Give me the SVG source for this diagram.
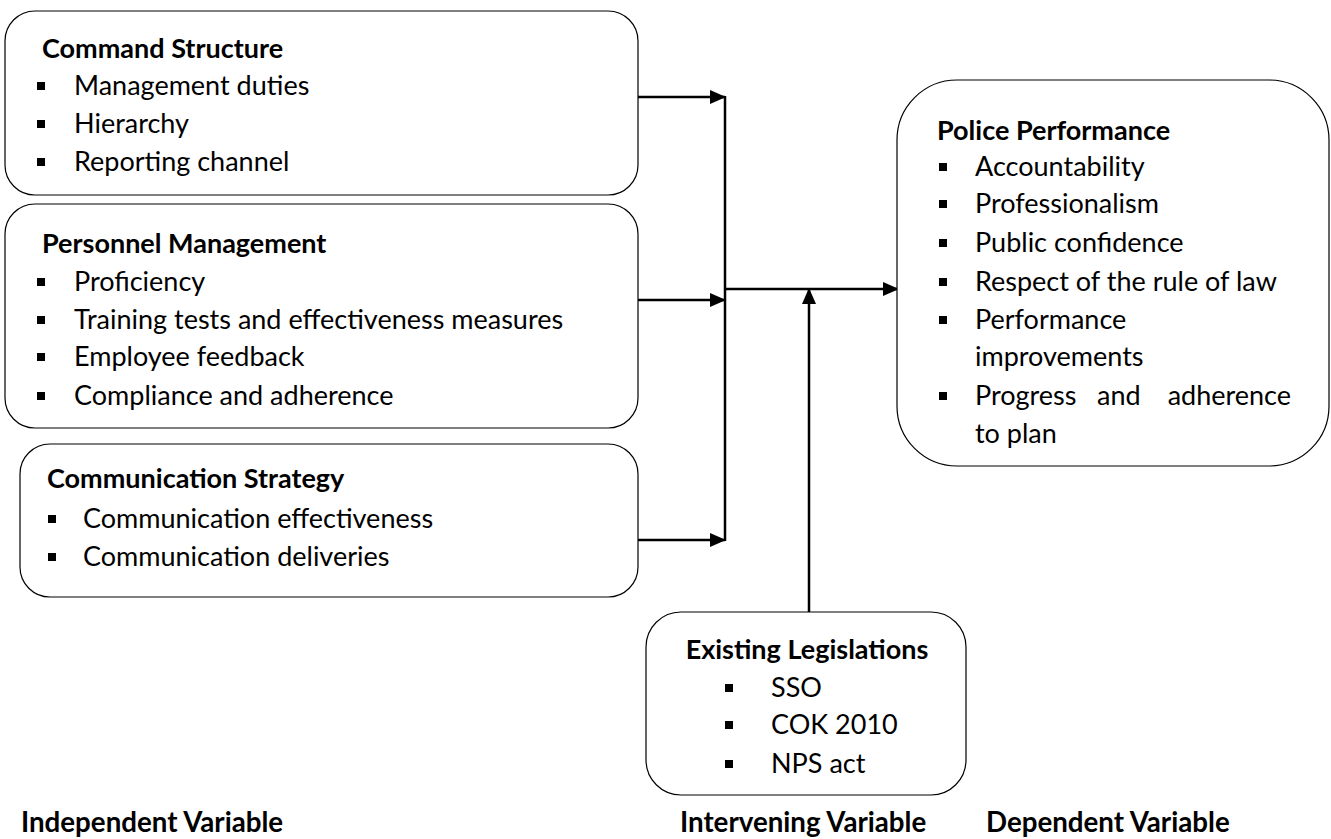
<svg xmlns="http://www.w3.org/2000/svg" width="1331" height="839" viewBox="0 0 1331 839">
<defs>
<marker id="ah" markerWidth="16" markerHeight="14" refX="15" refY="7" orient="auto" markerUnits="userSpaceOnUse">
<path d="M0,0 L16,7 L0,14 Z" fill="#000"/>
</marker>
<style>
.box{fill:#fff;stroke:#000;stroke-width:1.2}
.t{font-family:Lato,"Open Sans","Liberation Sans",sans-serif;font-size:27px;fill:#000}
.h{font-family:Lato,"Open Sans","Liberation Sans",sans-serif;font-size:27px;font-weight:bold;fill:#000}
.lbl{font-family:Lato,"Open Sans","Liberation Sans",sans-serif;font-size:27.7px;font-weight:bold;fill:#000}
.b{fill:#000}
.c{fill:none;stroke:#000;stroke-width:2.5}
</style>
</defs>
<rect width="1331" height="839" fill="#fff"/>
<g id="connectors">
<path class="c" d="M638,97 H725" marker-end="url(#ah)"/>
<path class="c" d="M638,300 H725" marker-end="url(#ah)"/>
<path class="c" d="M638,540 H725" marker-end="url(#ah)"/>
<path class="c" d="M725,96 V541"/>
<path class="c" d="M725,289 H898" marker-end="url(#ah)"/>
<path class="c" d="M809,612 V289" marker-end="url(#ah)"/>
</g>
<g id="command-structure">
<rect class="box" x="5" y="11" width="633" height="184" rx="30"/>
<text class="h" x="42" y="58">Command Structure</text>
<rect class="b" x="37" y="82" width="8" height="8"/><text class="t" x="74" y="95">Management duties</text>
<rect class="b" x="37" y="120" width="8" height="8"/><text class="t" x="74" y="133">Hierarchy</text>
<rect class="b" x="37" y="158" width="8" height="8"/><text class="t" x="74" y="171">Reporting channel</text>
</g>
<g id="personnel-management">
<rect class="box" x="5" y="204" width="633" height="224" rx="30"/>
<text class="h" x="42" y="253">Personnel Management</text>
<rect class="b" x="37" y="278" width="8" height="8"/><text class="t" x="74" y="291">Proficiency</text>
<rect class="b" x="37" y="316" width="8" height="8"/><text class="t" x="74" y="329">Training tests and effectiveness measures</text>
<rect class="b" x="37" y="353" width="8" height="8"/><text class="t" x="74" y="366">Employee feedback</text>
<rect class="b" x="37" y="392" width="8" height="8"/><text class="t" x="74" y="405">Compliance and adherence</text>
</g>
<g id="communication-strategy">
<rect class="box" x="20" y="444" width="618" height="153" rx="30"/>
<text class="h" x="47" y="488">Communication Strategy</text>
<rect class="b" x="48" y="515" width="8" height="8"/><text class="t" x="83" y="528">Communication effectiveness</text>
<rect class="b" x="48" y="553" width="8" height="8"/><text class="t" x="83" y="566">Communication deliveries</text>
</g>
<g id="police-performance">
<rect class="box" x="897" y="80" width="432" height="386" rx="60"/>
<text class="h" x="937" y="140">Police Performance</text>
<rect class="b" x="939" y="163" width="8" height="8"/><text class="t" x="975" y="176">Accountability</text>
<rect class="b" x="939" y="200" width="8" height="8"/><text class="t" x="975" y="213">Professionalism</text>
<rect class="b" x="939" y="239" width="8" height="8"/><text class="t" x="975" y="252">Public confidence</text>
<rect class="b" x="939" y="278" width="8" height="8"/><text class="t" x="975" y="291">Respect of the rule of law</text>
<rect class="b" x="939" y="316" width="8" height="8"/><text class="t" x="975" y="329">Performance</text>
<text class="t" x="975" y="366">improvements</text>
<rect class="b" x="939" y="392" width="8" height="8"/><text class="t" x="975" y="405">Progress</text><text class="t" x="1097" y="405">and</text><text class="t" x="1291" y="405" text-anchor="end">adherence</text>
<text class="t" x="975" y="443">to plan</text>
</g>
<g id="existing-legislations">
<rect class="box" x="646" y="612" width="320" height="183" rx="35"/>
<text class="h" x="807" y="659" text-anchor="middle">Existing Legislations</text>
<rect class="b" x="725" y="684" width="8" height="8"/><text class="t" x="771" y="697">SSO</text>
<rect class="b" x="725" y="721" width="8" height="8"/><text class="t" x="771" y="734">COK 2010</text>
<rect class="b" x="725" y="760" width="8" height="8"/><text class="t" x="771" y="773">NPS act</text>
</g>
<g id="labels">
<text class="lbl" x="21" y="832">Independent Variable</text>
<text class="lbl" x="680" y="832">Intervening Variable</text>
<text class="lbl" x="986" y="832">Dependent Variable</text>
</g>
</svg>
